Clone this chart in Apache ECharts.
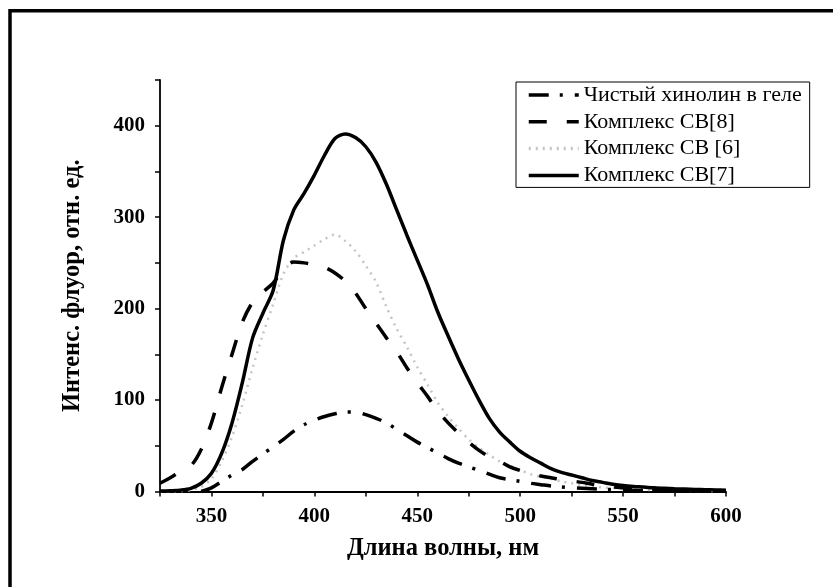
<!DOCTYPE html>
<html>
<head>
<meta charset="utf-8">
<script src="https://cdn.jsdelivr.net/npm/echarts@6/dist/echarts.min.js"></script>
<style>
html,body{margin:0;padding:0;background:#fff;}
#chart{width:833px;height:587px;}
</style>
</head>
<body>
<div id="chart"></div>
<script>
// ---- data ----
const wavelength = [325,330,335,340,345,350,355,360,365,370,375,380,385,390,395,400,405,410,415,420,425,430,435,440,445,450,455,460,465,470,475,480,485,490,495,500,505,510,515,520,525,530,535,540,545,550,555,560,565,570,575,580,585,590,595,600];

const pureQuinoline = [null,null,null,null,0,4,11,18,24,33,41,49,57,66,73,78,82,85,87,87,84,80,75,68,61,54,48,42,36,31,27,23,19,15,13,11,9,7.5,6,5,4,3.5,3,2.5,2,1.5,1.2,1,0.8,0.7,0.6,0.5,0.4,0.3,0.3,0.3];

const complexCB8 = [9,15,22,28,46,75,114,150,185,207,218,228,243,251,250,248,245,239,230,217,200,184,168,153,135,119,104,88,75,64,54,45,38,33,27,23,20,17,15,13,11.5,10,8,6.5,5,4,3,2.5,2,1.5,1.2,1,0.8,0.6,0.5,0.4];

const complexCB6 = [0,0.2,0.5,1.5,5,14,33,60,95,135,172,205,238,255,262,269,276,281,274,263,247,229,202,178,158,136,117,97,82,69,57,48,40,33,28,23.5,19,16,14,11,9,7,6,4.5,3.7,3,2.5,2,1.5,1.2,1,0.8,0.6,0.5,0.4,0.3];

const complexCB7 = [0.5,0.8,1.5,3.5,9,20,42,75,119,168,195,220,275,308,326,346,368,386,391,387,377,360,336,308,280,253,226,196,170,145,122,100,80,65,54,44,37,31,25,21,18,15,12,10,8,6.5,5.5,4.8,4,3.5,3,2.6,2.2,2,1.7,1.5];

const seriesNames = ['Чистый хинолин в геле','Комплекс CB[8]','Комплекс CB [6]','Комплекс CB[7]'];
const xTitle = 'Длина волны, нм';
const yTitle = 'Интенс. флуор, отн. ед.';

function pairs(vals){ return wavelength.map((w,i)=>[w, vals[i]]); }

const FONT = '"Liberation Serif","Times New Roman",serif';
const chart = echarts.init(document.getElementById('chart'), null, {renderer:'canvas'});

const option = {
  animation: false,
  backgroundColor: '#fff',
  grid: {left:160, right:107, top:80, bottom:95.5, containLabel:false},
  graphic: [{
    type:'rect', silent:true, z:-1,
    shape:{x:10, y:10.7, width:900, height:700},
    style:{fill:'none', stroke:'#000', lineWidth:3.5}
  }],
  legend: {
    orient:'vertical', left:516, top:82,
    padding:[2,8,1,11], itemGap:4.8,
    itemWidth:50, itemHeight:14,
    itemStyle:{opacity:0},
    lineStyle:{width:3.5},
    borderColor:'#000', borderWidth:1, backgroundColor:'#fff',
    textStyle:{fontFamily:FONT, fontSize:22, color:'#000', lineHeight:22},
    data: seriesNames
  },
  xAxis: {
    type:'value', min:325, max:600, interval:25,
    name: xTitle, nameLocation:'middle', nameGap:45,
    nameTextStyle:{fontFamily:FONT, fontSize:24.5, fontWeight:'bold', color:'#000'},
    axisLine:{lineStyle:{color:'#000', width:1.8}},
    axisTick:{length:5, lineStyle:{color:'#000', width:1.5}},
    axisLabel:{fontFamily:FONT, fontSize:21, fontWeight:'bold', color:'#000', margin:15,
      formatter:v => (v % 50 === 0 ? String(v) : '')},
    splitLine:{show:false}
  },
  yAxis: {
    type:'value', min:0, max:450, interval:50,
    name: yTitle, nameLocation:'middle', nameGap:75, nameRotate:90,
    nameTextStyle:{fontFamily:FONT, fontSize:24.5, fontWeight:'bold', color:'#000'},
    axisLine:{show:true, lineStyle:{color:'#000', width:1.8}},
    axisTick:{show:true, length:5, lineStyle:{color:'#000', width:1.5}},
    axisLabel:{fontFamily:FONT, fontSize:21, fontWeight:'bold', color:'#000', margin:15,
      formatter:v => (v % 100 === 0 ? String(v) : '')},
    splitLine:{show:false}
  },
  series: [
    {name:seriesNames[0], type:'line', data:pairs(pureQuinoline), showSymbol:false, symbol:'none', smooth:0.3,
     lineStyle:{color:'#000', width:3.5, type:[20,11,3,12]}, itemStyle:{color:'#000'}, z:3},
    {name:seriesNames[1], type:'line', data:pairs(complexCB8), showSymbol:false, symbol:'none', smooth:0.3,
     lineStyle:{color:'#000', width:3.5, type:[18,20]}, itemStyle:{color:'#000'}, z:4},
    {name:seriesNames[2], type:'line', data:pairs(complexCB6), showSymbol:false, symbol:'none', smooth:0.3,
     lineStyle:{color:'#c4c4c4', width:2.5, type:[2,5]}, itemStyle:{color:'#c4c4c4'}, z:2},
    {name:seriesNames[3], type:'line', data:pairs(complexCB7), showSymbol:false, symbol:'none', smooth:0.3,
     lineStyle:{color:'#000', width:3.5}, itemStyle:{color:'#000'}, z:5}
  ]
};
chart.setOption(option);
</script>
</body>
</html>
